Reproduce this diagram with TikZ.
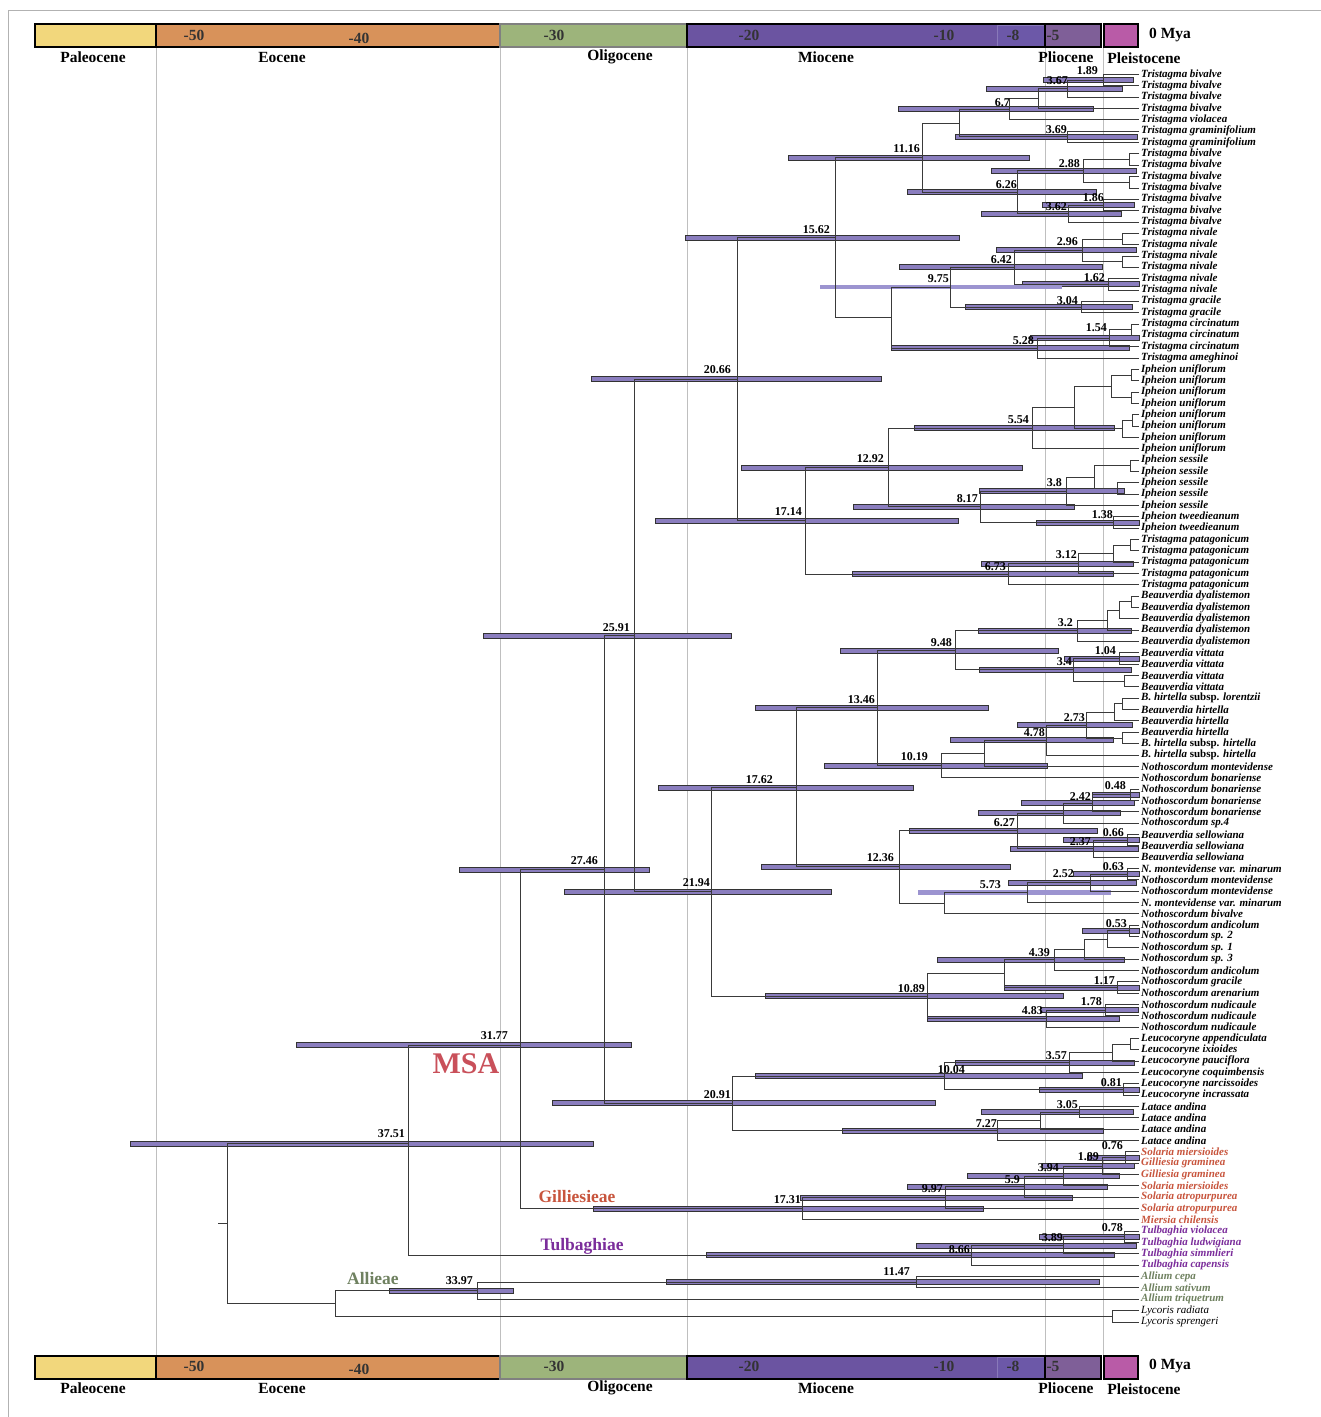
\documentclass[tikz,border=0pt]{standalone}
\usepackage{fontspec}
\setmainfont{Liberation Serif}
\usetikzlibrary{calc}
\pgfdeclarelayer{bg}
\pgfdeclarelayer{paper}
\pgfsetlayers{paper,bg,main}
\definecolor{cPal}{HTML}{F2D77C}
\definecolor{cEoc}{HTML}{D8925A}
\definecolor{cOli}{HTML}{9DB47B}
\definecolor{cMio}{HTML}{6B54A1}
\definecolor{cMioB}{HTML}{6C58A8}
\definecolor{cPli}{HTML}{7F5F98}
\definecolor{cPle}{HTML}{B95BA7}
\definecolor{barC}{HTML}{8A7DBE}
\definecolor{barE}{HTML}{333333}
\definecolor{barL}{HTML}{9C94D0}
\definecolor{lineC}{HTML}{3A3A3A}
\definecolor{gillC}{HTML}{C8553D}
\definecolor{tulbC}{HTML}{7B2D9B}
\definecolor{alliC}{HTML}{6F8160}
\definecolor{msaC}{HTML}{C9505A}
\newcommand\tipL[3][black]{%
  \coordinate (p#2) at (1139,{74.5+(#2-1)*11.34});
  \node[tiplab,text=#1] (l#2) at (1141,{74.5+(#2-1)*11.34}) {#3};}
\newcommand\nodeJ[4]{%
  \coordinate (tmp) at ($(#3)!.5!(#4)$);
  \coordinate (#1) at (#2,0 |- tmp);
  \draw[br] (#3) -- (#1 |- #3) -- (#1 |- #4) -- (#4);}
\newcommand\hpdBar[3]{%
  \begin{pgfonlayer}{bg}
  \path (#2,0 |- #1) coordinate (ba) (#3,0 |- #1) coordinate (bb);
  \draw[hpd] ([yshift=2.5pt]ba) rectangle ([yshift=-2.5pt]bb);
  \end{pgfonlayer}}
\newcommand\hpdLight[3]{%
  \begin{pgfonlayer}{bg}
  \path (#2,0 |- #1) coordinate (ba) (#3,0 |- #1) coordinate (bb);
  \fill[barL] ([yshift=2.3pt]ba) rectangle ([yshift=-2.3pt]bb);
  \end{pgfonlayer}}
\newcommand\ageLab[4]{\node[agelab] (#1) at (#2,#3) {#4};}
\newcommand\timeBar[3]{%
  \fill[cPal] (35,#1) rectangle (156,{#1+23});
  \fill[cEoc] (156,#1) rectangle (500,{#1+23});
  \fill[cOli] (500,#1) rectangle (687,{#1+23});
  \fill[cMio] (687,#1) rectangle (1045,{#1+23});
  \fill[cPli] (1045,#1) rectangle (1101,{#1+23});
  \fill[cPle] (1104,#1) rectangle (1138,{#1+23});
  \draw[cMioB!80!white,fill=cMioB,line width=0.6pt] (997,{#1+1}) rectangle (1044,{#1+22});
  \draw[black,line width=1.4pt] (35,#1) rectangle (156,{#1+23});
  \draw[black,line width=1.4pt] (156,#1) rectangle (500,{#1+23});
  \draw[gray,line width=1.2pt] (500,#1) rectangle (687,{#1+23});
  \draw[black,line width=1.4pt] (687,#1) rectangle (1045,{#1+23});
  \draw[black,line width=1.4pt] (1045,#1) rectangle (1101,{#1+23});
  \draw[black,line width=1.4pt] (1104,#1) rectangle (1138,{#1+23});
  \node[ticklab] (tka#1) at (194,#2) {-50};
  \node[ticklab] (tkb#1) at (359,{#2+3}) {-40};
  \node[ticklab] (tkc#1) at (554,#2) {-30};
  \node[ticklab] (tkd#1) at (749,#2) {-20};
  \node[ticklab] (tke#1) at (944,#2) {-10};
  \node[ticklab] (tkf#1) at (1013,#2) {-8};
  \node[ticklab] (tkg#1) at (1053,#2) {-5};
  \node[ticklab,text=black,anchor=west] (tkh#1) at (1149,#2) {0 Mya};
  \node[eplab] (epa#1) at (93,#3) {Paleocene};
  \node[eplab] (epb#1) at (282,#3) {Eocene};
  \node[eplab] (epc#1) at (620,#3) {Oligocene};
  \node[eplab] (epd#1) at (826,#3) {Miocene};
  \node[eplab] (epe#1) at (1066,#3) {Pliocene};
  \node[eplab] (epf#1) at (1144,{#3+1}) {Pleistocene};}
\begin{document}
\begin{tikzpicture}[x=1pt,y=-1pt,
  br/.style={draw=lineC,line width=0.8pt},
  hpd/.style={fill=barC,draw=barE,line width=0.7pt},
  tiplab/.style={anchor=west,inner sep=0pt,font=\fontsize{11}{11}\selectfont\bfseries\itshape},
  agelab/.style={anchor=east,inner sep=0pt,font=\fontsize{12}{12}\selectfont\bfseries},
  eplab/.style={inner sep=0pt,font=\fontsize{15.5}{16}\selectfont\bfseries},
  ticklab/.style={inner sep=0pt,text=black!80,font=\fontsize{15.5}{16}\selectfont\bfseries},
  clade/.style={inner sep=0pt,font=\fontsize{17.5}{18}\selectfont\bfseries},
  gridl/.style={draw=gray!50,line width=0.6pt}]
\useasboundingbox (0,0) rectangle (1321,1417);
\begin{pgfonlayer}{paper}
\fill[white] (0,0) rectangle (1321,1417);
\end{pgfonlayer}
\draw[gray!60,line width=0.6pt] (8,1417) -- (8,10) -- (1321,10);
\begin{pgfonlayer}{bg}
\foreach \gx in {156,500,687,1045,1103} {\draw[gridl] (\gx,47) -- (\gx,1356);}
\end{pgfonlayer}
\timeBar{24}{35}{57}
\timeBar{1356}{1366}{1388}
% tips
\tipL{1}{Tristagma bivalve}
\tipL{2}{Tristagma bivalve}
\tipL{3}{Tristagma bivalve}
\tipL{4}{Tristagma bivalve}
\tipL{5}{Tristagma violacea}
\tipL{6}{Tristagma graminifolium}
\tipL{7}{Tristagma graminifolium}
\tipL{8}{Tristagma bivalve}
\tipL{9}{Tristagma bivalve}
\tipL{10}{Tristagma bivalve}
\tipL{11}{Tristagma bivalve}
\tipL{12}{Tristagma bivalve}
\tipL{13}{Tristagma bivalve}
\tipL{14}{Tristagma bivalve}
\tipL{15}{Tristagma nivale}
\tipL{16}{Tristagma nivale}
\tipL{17}{Tristagma nivale}
\tipL{18}{Tristagma nivale}
\tipL{19}{Tristagma nivale}
\tipL{20}{Tristagma nivale}
\tipL{21}{Tristagma gracile}
\tipL{22}{Tristagma gracile}
\tipL{23}{Tristagma circinatum}
\tipL{24}{Tristagma circinatum}
\tipL{25}{Tristagma circinatum}
\tipL{26}{Tristagma ameghinoi}
\tipL{27}{Ipheion uniflorum}
\tipL{28}{Ipheion uniflorum}
\tipL{29}{Ipheion uniflorum}
\tipL{30}{Ipheion uniflorum}
\tipL{31}{Ipheion uniflorum}
\tipL{32}{Ipheion uniflorum}
\tipL{33}{Ipheion uniflorum}
\tipL{34}{Ipheion uniflorum}
\tipL{35}{Ipheion sessile}
\tipL{36}{Ipheion sessile}
\tipL{37}{Ipheion sessile}
\tipL{38}{Ipheion sessile}
\tipL{39}{Ipheion sessile}
\tipL{40}{Ipheion tweedieanum}
\tipL{41}{Ipheion tweedieanum}
\tipL{42}{Tristagma patagonicum}
\tipL{43}{Tristagma patagonicum}
\tipL{44}{Tristagma patagonicum}
\tipL{45}{Tristagma patagonicum}
\tipL{46}{Tristagma patagonicum}
\tipL{47}{Beauverdia dyalistemon}
\tipL{48}{Beauverdia dyalistemon}
\tipL{49}{Beauverdia dyalistemon}
\tipL{50}{Beauverdia dyalistemon}
\tipL{51}{Beauverdia dyalistemon}
\tipL{52}{Beauverdia vittata}
\tipL{53}{Beauverdia vittata}
\tipL{54}{Beauverdia vittata}
\tipL{55}{Beauverdia vittata}
\tipL{56}{B. hirtella \textup{subsp.} lorentzii}
\tipL{57}{Beauverdia hirtella}
\tipL{58}{Beauverdia hirtella}
\tipL{59}{Beauverdia hirtella}
\tipL{60}{B. hirtella \textup{subsp.} hirtella}
\tipL{61}{B. hirtella \textup{subsp.} hirtella}
\tipL{62}{Nothoscordum montevidense}
\tipL{63}{Nothoscordum bonariense}
\tipL{64}{Nothoscordum bonariense}
\tipL{65}{Nothoscordum bonariense}
\tipL{66}{Nothoscordum bonariense}
\tipL{67}{Nothoscordum sp.4}
\tipL{68}{Beauverdia sellowiana}
\tipL{69}{Beauverdia sellowiana}
\tipL{70}{Beauverdia sellowiana}
\tipL{71}{N. montevidense var. minarum}
\tipL{72}{Nothoscordum montevidense}
\tipL{73}{Nothoscordum montevidense}
\tipL{74}{N. montevidense var. minarum}
\tipL{75}{Nothoscordum bivalve}
\tipL{76}{Nothoscordum andicolum}
\tipL{77}{Nothoscordum sp. 2}
\tipL{78}{Nothoscordum sp. 1}
\tipL{79}{Nothoscordum sp. 3}
\tipL{80}{Nothoscordum andicolum}
\tipL{81}{Nothoscordum gracile}
\tipL{82}{Nothoscordum arenarium}
\tipL{83}{Nothoscordum nudicaule}
\tipL{84}{Nothoscordum nudicaule}
\tipL{85}{Nothoscordum nudicaule}
\tipL{86}{Leucocoryne appendiculata}
\tipL{87}{Leucocoryne ixioides}
\tipL{88}{Leucocoryne pauciflora}
\tipL{89}{Leucocoryne coquimbensis}
\tipL{90}{Leucocoryne narcissoides}
\tipL{91}{Leucocoryne incrassata}
\tipL{92}{Latace andina}
\tipL{93}{Latace andina}
\tipL{94}{Latace andina}
\tipL{95}{Latace andina}
\tipL[gillC]{96}{Solaria miersioides}
\tipL[gillC]{97}{Gilliesia graminea}
\tipL[gillC]{98}{Gilliesia graminea}
\tipL[gillC]{99}{Solaria miersioides}
\tipL[gillC]{100}{Solaria atropurpurea}
\tipL[gillC]{101}{Solaria atropurpurea}
\tipL[gillC]{102}{Miersia chilensis}
\tipL[tulbC]{103}{Tulbaghia violacea}
\tipL[tulbC]{104}{Tulbaghia ludwigiana}
\tipL[tulbC]{105}{Tulbaghia simmlieri}
\tipL[tulbC]{106}{Tulbaghia capensis}
\tipL[alliC]{107}{Allium cepa}
\tipL[alliC]{108}{Allium sativum}
\tipL[alliC]{109}{Allium triquetrum}
\tipL{110}{\mdseries Lycoris radiata}
\tipL{111}{\mdseries Lycoris sprengeri}
% clade A
\nodeJ{a1}{1103}{p1}{p2} \hpdBar{a1}{1043}{1133}
\nodeJ{a2}{1067}{a1}{p3} \hpdBar{a2}{986}{1122}
\nodeJ{a3}{1038}{a2}{p4}
\nodeJ{a4}{1009}{a3}{p5} \hpdBar{a4}{898}{1093}
\nodeJ{a5}{1067}{p6}{p7} \hpdBar{a5}{955}{1137}
\nodeJ{a6}{959}{a4}{a5}
\nodeJ{a7}{1129}{p8}{p9}
\nodeJ{a8}{1129}{p10}{p11}
\nodeJ{a9}{1083}{a7}{a8} \hpdBar{a9}{991}{1136}
\nodeJ{a10}{1103}{p12}{p13} \hpdBar{a10}{1042}{1134}
\nodeJ{a11}{1068}{a10}{p14} \hpdBar{a11}{981}{1121}
\nodeJ{a12}{1017}{a9}{a11} \hpdBar{a12}{907}{1096}
\nodeJ{a13}{922}{a6}{a12} \hpdBar{a13}{788}{1029}
\nodeJ{a14}{1122}{p15}{p16}
\nodeJ{a15}{1122}{p17}{p18}
\nodeJ{a16}{1082}{a14}{a15} \hpdBar{a16}{996}{1136}
\nodeJ{a17}{1108}{p19}{p20} \hpdBar{a17}{1022}{1139}
\nodeJ{a18}{1014}{a16}{a17} \hpdBar{a18}{899}{1102}
\nodeJ{a19}{1081}{p21}{p22} \hpdBar{a19}{965}{1132}
\nodeJ{a20}{950}{a18}{a19} \hpdLight{a20}{820}{1062}
\nodeJ{a21}{1131}{p23}{p24}
\nodeJ{a22}{1109}{a21}{p25} \hpdBar{a22}{1030}{1139}
\nodeJ{a23}{1037}{a22}{p26} \hpdBar{a23}{891}{1129}
\nodeJ{a24}{891}{a20}{a23}
\nodeJ{a25}{835}{a13}{a24} \hpdBar{a25}{685}{959}
% clade B
\nodeJ{b1}{1131}{p27}{p28}
\nodeJ{b2}{1131}{p29}{p30}
\nodeJ{b3}{1111}{b1}{b2}
\nodeJ{b4}{1132}{p31}{p32}
\nodeJ{b5}{1122}{b4}{p33}
\nodeJ{b6}{1074}{b3}{b5}
\nodeJ{b7}{1032}{b6}{p34} \hpdBar{b7}{914}{1114}
\nodeJ{b8}{1130}{p35}{p36}
\nodeJ{b9}{1117}{p37}{p38}
\nodeJ{b10}{1094}{b8}{b9}
\nodeJ{b11}{1066}{b10}{p39} \hpdBar{b11}{979}{1124}
\nodeJ{b12}{1113}{p40}{p41} \hpdBar{b12}{1036}{1139}
\nodeJ{b13}{980}{b11}{b12} \hpdBar{b13}{853}{1074}
\nodeJ{b14}{888}{b7}{b13} \hpdBar{b14}{741}{1022}
\nodeJ{b15}{1130}{p42}{p43}
\nodeJ{b16}{1113}{b15}{p44}
\nodeJ{b17}{1078}{b16}{p45} \hpdBar{b17}{981}{1133}
\nodeJ{b18}{1008}{b17}{p46} \hpdBar{b18}{852}{1113}
\nodeJ{b19}{805}{b14}{b18} \hpdBar{b19}{655}{958}
\nodeJ{b20}{737}{a25}{b19} \hpdBar{b20}{591}{881}
% clade C
\nodeJ{c1}{1131}{p47}{p48}
\nodeJ{c2}{1119}{c1}{p49}
\nodeJ{c3}{1107}{c2}{p50}
\nodeJ{c4}{1077}{c3}{p51} \hpdBar{c4}{978}{1131}
\nodeJ{c5}{1119}{p52}{p53} \hpdBar{c5}{1064}{1139}
\nodeJ{c6}{1124}{p54}{p55}
\nodeJ{c7}{1073}{c5}{c6} \hpdBar{c7}{979}{1131}
\nodeJ{c8}{955}{c4}{c7} \hpdBar{c8}{840}{1058}
\nodeJ{c9}{1122}{p56}{p57}
\nodeJ{c10}{1114}{c9}{p58}
\nodeJ{c11}{1122}{p59}{p60}
\nodeJ{c12}{1086}{c10}{c11} \hpdBar{c12}{1017}{1132}
\nodeJ{c13}{1046}{c12}{p61} \hpdBar{c13}{950}{1113}
\nodeJ{c14}{984}{c13}{p62}
\nodeJ{c15}{941}{c14}{p63} \hpdBar{c15}{824}{1047}
\nodeJ{c16}{877}{c8}{c15} \hpdBar{c16}{755}{988}
\nodeJ{c17}{1130}{p64}{p65} \hpdBar{c17}{1092}{1139}
\nodeJ{c18}{1092}{c17}{p66} \hpdBar{c18}{1021}{1134}
\nodeJ{c19}{1063}{c18}{p67} \hpdBar{c19}{978}{1120}
\nodeJ{c20}{1127}{p68}{p69} \hpdBar{c20}{1063}{1139}
\nodeJ{c21}{1093}{c20}{p70} \hpdBar{c21}{1010}{1138}
\nodeJ{c22}{1017}{c19}{c21} \hpdBar{c22}{909}{1097}
\nodeJ{c23}{1127}{p71}{p72} \hpdBar{c23}{1073}{1139}
\nodeJ{c24}{1090}{c23}{p73} \hpdBar{c24}{1008}{1136}
\nodeJ{c25}{1027}{c24}{p74} \hpdLight{c25}{918}{1111}
\nodeJ{c26}{944}{c25}{p75}
\nodeJ{c27}{899}{c22}{c26} \hpdBar{c27}{761}{1010}
\nodeJ{c28}{796}{c16}{c27} \hpdBar{c28}{658}{913}
\nodeJ{c29}{1129}{p76}{p77} \hpdBar{c29}{1082}{1139}
\nodeJ{c30}{1107}{c29}{p78}
\nodeJ{c31}{1084}{c30}{p79}
\nodeJ{c32}{1054}{c31}{p80} \hpdBar{c32}{937}{1124}
\nodeJ{c33}{1117}{p81}{p82} \hpdBar{c33}{1004}{1139}
\nodeJ{c34}{1004}{c32}{c33}
\nodeJ{c35}{1105}{p83}{p84} \hpdBar{c35}{1040}{1138}
\nodeJ{c36}{1046}{c35}{p85} \hpdBar{c36}{927}{1119}
\nodeJ{c37}{927}{c34}{c36} \hpdBar{c37}{765}{1063}
\nodeJ{c38}{711}{c28}{c37} \hpdBar{c38}{564}{831}
\nodeJ{c39}{634}{b20}{c38} \hpdBar{c39}{483}{731}
% clade D
\nodeJ{d1}{1130}{p86}{p87}
\nodeJ{d2}{1112}{d1}{p88}
\nodeJ{d3}{1069}{d2}{p89} \hpdBar{d3}{955}{1134}
\nodeJ{d4}{1123}{p90}{p91} \hpdBar{d4}{1039}{1139}
\nodeJ{d5}{944}{d3}{d4} \hpdBar{d5}{755}{1082}
\nodeJ{d6}{1079}{p92}{p93} \hpdBar{d6}{981}{1133}
\nodeJ{d7}{1040}{d6}{p94}
\nodeJ{d8}{997}{d7}{p95} \hpdBar{d8}{842}{1103}
\nodeJ{d9}{732}{d5}{d8} \hpdBar{d9}{552}{935}
\nodeJ{d10}{604}{c39}{d9} \hpdBar{d10}{459}{649}
% Gilliesieae
\nodeJ{e1}{1125}{p96}{p97} \hpdBar{e1}{1087}{1139}
\nodeJ{e2}{1102}{e1}{p98} \hpdBar{e2}{1042}{1134}
\nodeJ{e3}{1063}{e2}{p99} \hpdBar{e3}{967}{1119}
\nodeJ{e4}{1024}{e3}{p100} \hpdBar{e4}{907}{1107}
\nodeJ{e5}{945}{e4}{p101} \hpdBar{e5}{800}{1072}
\nodeJ{e6}{802}{e5}{p102} \hpdBar{e6}{593}{983}
\coordinate (f0) at (520,1045);
\draw[br] (d10) -- (f0 |- d10) -- (f0 |- e6) -- (e6);
\hpdBar{f0}{296}{631}
% Tulbaghieae
\nodeJ{g1}{1124}{p103}{p104} \hpdBar{g1}{1039}{1139}
\nodeJ{g2}{1063}{g1}{p105} \hpdBar{g2}{916}{1136}
\nodeJ{g3}{971}{g2}{p106} \hpdBar{g3}{706}{1114}
\coordinate (h0) at (408,1143.7);
\draw[br] (f0) -- (h0 |- f0) -- (h0 |- g3) -- (g3);
\hpdBar{h0}{130}{593}
% Allieae and outgroup
\nodeJ{k1}{916}{p107}{p108} \hpdBar{k1}{666}{1099}
\nodeJ{k2}{477}{k1}{p109} \hpdBar{k2}{389}{513}
\nodeJ{k3}{1112}{p110}{p111}
\nodeJ{k4}{335}{k2}{k3}
\nodeJ{root}{227}{h0}{k4}
\coordinate (rootstem) at ([xshift=-9pt]root);
\draw[br] (root) -- (rootstem);
% age labels
\ageLab{q1}{1098}{71}{1.89}
\ageLab{q2}{1068}{81}{3.67}
\ageLab{q3}{1010}{103}{6.7}
\ageLab{q4}{1067}{130}{3.69}
\ageLab{q5}{920}{149}{11.16}
\ageLab{q6}{1080}{164}{2.88}
\ageLab{q7}{1017}{185}{6.26}
\ageLab{q8}{1104}{198}{1.86}
\ageLab{q9}{1067}{207}{3.62}
\ageLab{q10}{830}{230}{15.62}
\ageLab{q11}{1078}{242}{2.96}
\ageLab{q12}{1012}{260}{6.42}
\ageLab{q13}{1105}{278}{1.62}
\ageLab{q14}{949}{279}{9.75}
\ageLab{q15}{1078}{301}{3.04}
\ageLab{q16}{1107}{328}{1.54}
\ageLab{q17}{1034}{341}{5.28}
\ageLab{q18}{731}{370}{20.66}
\ageLab{q19}{1029}{420}{5.54}
\ageLab{q20}{884}{459}{12.92}
\ageLab{q21}{1062}{483}{3.8}
\ageLab{q22}{978}{499}{8.17}
\ageLab{q23}{1113}{515}{1.38}
\ageLab{q24}{802}{512}{17.14}
\ageLab{q25}{1077}{555}{3.12}
\ageLab{q26}{1006}{567}{6.73}
\ageLab{q27}{630}{628}{25.91}
\ageLab{q28}{1073}{623}{3.2}
\ageLab{q29}{952}{643}{9.48}
\ageLab{q30}{1116}{651}{1.04}
\ageLab{q31}{1072}{662}{3.4}
\ageLab{q32}{875}{700}{13.46}
\ageLab{q33}{1085}{718}{2.73}
\ageLab{q34}{1045}{733}{4.78}
\ageLab{q35}{928}{757}{10.19}
\ageLab{q36}{773}{780}{17.62}
\ageLab{q37}{1126}{786}{0.48}
\ageLab{q38}{1091}{797}{2.42}
\ageLab{q39}{1015}{823}{6.27}
\ageLab{q40}{1124}{833}{0.66}
\ageLab{q41}{1091}{842}{2.37}
\ageLab{q42}{894}{858}{12.36}
\ageLab{q43}{598}{861}{27.46}
\ageLab{q44}{1124}{867}{0.63}
\ageLab{q45}{1074}{874}{2.52}
\ageLab{q46}{710}{883}{21.94}
\ageLab{q47}{1001}{885}{5.73}
\ageLab{q48}{1127}{924}{0.53}
\ageLab{q49}{1050}{953}{4.39}
\ageLab{q50}{1115}{981}{1.17}
\ageLab{q51}{925}{989}{10.89}
\ageLab{q52}{1102}{1002}{1.78}
\ageLab{q53}{1043}{1011}{4.83}
\ageLab{q54}{508}{1036}{31.77}
\ageLab{q55}{1067}{1056}{3.57}
\ageLab{q56}{965}{1070}{10.04}
\ageLab{q57}{1122}{1083}{0.81}
\ageLab{q58}{731}{1095}{20.91}
\ageLab{q59}{1078}{1105}{3.05}
\ageLab{q60}{997}{1124}{7.27}
\ageLab{q61}{405}{1134}{37.51}
\ageLab{q62}{1123}{1146}{0.76}
\ageLab{q63}{1099}{1157}{1.89}
\ageLab{q64}{1059}{1168}{3.94}
\ageLab{q65}{1020}{1180}{5.9}
\ageLab{q66}{943}{1189}{9.97}
\ageLab{q67}{801}{1200}{17.31}
\ageLab{q68}{1123}{1228}{0.78}
\ageLab{q69}{1063}{1238}{3.89}
\ageLab{q70}{970}{1250}{8.66}
\ageLab{q71}{473}{1281}{33.97}
\ageLab{q72}{910}{1272}{11.47}
% clade names
\node[inner sep=0pt,font=\fontsize{30}{30}\selectfont\bfseries,text=msaC] (msa) at (466,1064) {MSA};
\node[clade,text=gillC] (gil) at (577,1196) {Gilliesieae};
\node[clade,text=tulbC] (tul) at (582,1246) {Tulbaghiae};
\node[clade,text=alliC] (all) at (373,1278) {Allieae};
\end{tikzpicture}
\end{document}
